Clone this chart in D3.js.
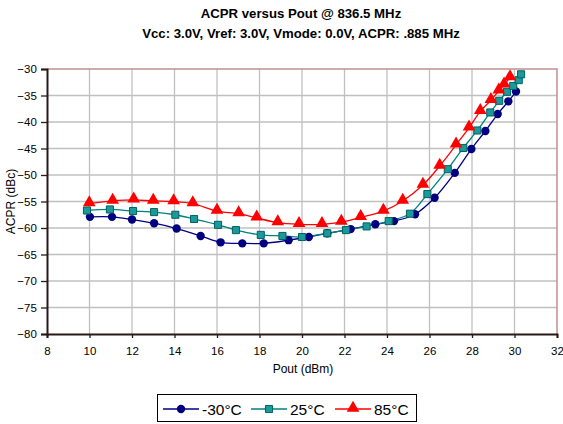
<!DOCTYPE html>
<html><head><meta charset="utf-8">
<script src="https://cdn.jsdelivr.net/npm/d3@7"></script>
<style>body{margin:0;background:#fff;} svg{display:block;font-family:"Liberation Sans",Arial,sans-serif;}</style>
</head><body>
<svg id="chart" width="563" height="424"></svg>
<script>
const titleLines = ["ACPR versus Pout @ 836.5 MHz", "Vcc: 3.0V, Vref: 3.0V, Vmode: 0.0V, ACPR: .885 MHz"];
const xTicks = [8,10,12,14,16,18,20,22,24,26,28,30,32];
const yTicks = [-30,-35,-40,-45,-50,-55,-60,-65,-70,-75,-80];
const seriesNames = ["-30°C", "25°C", "85°C"];

const m30x = [10.02,11.06,12.0,13.04,14.1,15.23,16.17,17.19,18.2,19.37,20.32,21.19,22.29,23.45,24.33,25.32,26.24,27.19,27.97,28.63,29.21,29.71,30.07];
const m30y = [-57.9,-57.9,-58.4,-59.1,-60.1,-61.5,-62.7,-62.9,-62.9,-62.3,-61.7,-61.0,-60.2,-59.3,-58.7,-57.4,-54.3,-49.6,-45.1,-41.7,-38.5,-36.1,-34.25];

const p25x = [9.88,10.96,12.05,13.04,14.04,14.92,16.05,16.89,18.06,19.08,20.0,21.19,22.07,23.04,24.08,25.08,25.9,26.86,27.59,28.25,28.86,29.28,29.65,29.94,30.2,30.31];
const p25y = [-56.7,-56.5,-56.8,-57.0,-57.5,-58.3,-59.4,-60.4,-61.3,-61.5,-61.7,-61.0,-60.4,-59.7,-58.7,-57.3,-53.6,-48.9,-44.9,-41.6,-38.2,-36.0,-34.3,-33.2,-32.1,-31.0];

const p85x = [9.99,11.09,12.08,13.0,13.96,14.86,16.0,17.02,17.87,18.86,19.86,20.94,21.85,22.76,23.83,24.74,25.69,26.48,27.25,27.86,28.39,28.89,29.26,29.51,29.79];
const p85y = [-55.4,-54.9,-54.7,-54.9,-55.0,-55.4,-56.8,-57.3,-58.1,-59.0,-59.3,-59.3,-58.9,-58.0,-56.8,-54.9,-51.9,-48.3,-44.3,-41.1,-38.0,-35.9,-34.1,-33.0,-31.6];

const colors = ["#000080", "#008080", "#ff0000"];
const symbols = [d3.symbolCircle, d3.symbolSquare, d3.symbolTriangle];
const symSizes = [55, 50, 70];

const series = [
  {name: seriesNames[0], pts: m30x.map((x,i)=>({x, y:m30y[i]}))},
  {name: seriesNames[1], pts: p25x.map((x,i)=>({x, y:p25y[i]}))},
  {name: seriesNames[2], pts: p85x.map((x,i)=>({x, y:p85y[i]}))}
];

const svg = d3.select("#chart");
const L = 47, R = 557, T = 69, B = 334;
const x = d3.scaleLinear().domain([8,32]).range([L,R]);
const y = d3.scaleLinear().domain([-80,-30]).range([B,T]);

// titles
svg.selectAll("text.title").data(titleLines).join("text")
  .attr("class","title")
  .attr("x", 301).attr("y",(d,i)=>18+i*19.5)
  .attr("text-anchor","middle").attr("font-weight","bold").attr("font-size",13.2)
  .text(d=>d);

// grid
const g = svg.append("g");
g.selectAll("line.vg").data(xTicks.slice(1,-1)).join("line")
  .attr("x1",d=>x(d)).attr("x2",d=>x(d)).attr("y1",T).attr("y2",B)
  .attr("stroke","#c0c0c0").attr("stroke-width",1.3);
g.selectAll("line.hg").data(yTicks.slice(1,-1)).join("line")
  .attr("x1",L).attr("x2",R).attr("y1",d=>y(d)).attr("y2",d=>y(d))
  .attr("stroke","#c0c0c0").attr("stroke-width",1.3);

// top/right border
svg.append("path").attr("d",`M${L},${T}H${R}V${B}`).attr("fill","none").attr("stroke","#c09090").attr("stroke-width",1.5);

// axes
const xAxis = d3.axisBottom(x).tickValues(xTicks).tickSize(4).tickFormat(d3.format("d"));
const yAxis = d3.axisLeft(y).tickValues(yTicks).tickSize(6).tickFormat(d3.format("d"));
const xg = svg.append("g").attr("transform",`translate(0,${B})`).call(xAxis);
const yg = svg.append("g").attr("transform",`translate(${L},0)`).call(yAxis);
[xg,yg].forEach(a=>{
  a.select(".domain").attr("stroke","#2a1818").attr("stroke-width",2);
  a.selectAll(".tick line").attr("stroke","#2a1818").attr("stroke-width",1.3);
  a.selectAll(".tick text").attr("font-size",11.5).attr("fill","#000").attr("font-family","Liberation Sans, Arial, sans-serif");
});
xg.selectAll(".tick text").attr("dy","1.2em");
yg.selectAll(".tick text").attr("dx","-0.1em");

// axis titles
svg.append("text").attr("x",(L+R)/2+1).attr("y",373).attr("text-anchor","middle").attr("font-size",12).text("Pout (dBm)");
svg.append("text").attr("transform",`translate(15,${(T+B)/2}) rotate(-90)`).attr("text-anchor","middle").attr("font-size",12).text("ACPR (dBc)");

// lines
const line = d3.line().x(d=>x(d.x)).y(d=>y(d.y)).curve(d3.curveCatmullRom.alpha(0.5));
series.forEach((s,i)=>{
  svg.append("path").datum(s.pts).attr("d",line).attr("fill","none").attr("stroke",colors[i]).attr("stroke-width",1.3);
});
series.forEach((s,i)=>{
  svg.append("g").selectAll("path").data(s.pts).join("path")
    .attr("transform",d=>`translate(${x(d.x)},${y(d.y)+(i==2?-1:0)})`)
    .attr("d",d3.symbol().type(symbols[i]).size(symSizes[i]))
    .attr("fill", i==1 ? "#1a9a9a" : colors[i])
    .attr("stroke", i==1 ? "#006060" : "none").attr("stroke-width",1);
});

// legend
const lg = svg.append("g");
lg.append("rect").attr("x",157.5).attr("y",394.5).attr("width",259).attr("height",27).attr("fill","#fff").attr("stroke","#000").attr("stroke-width",1);
const legX = [163, 251, 335];
seriesNames.forEach((n,i)=>{
  const lx = legX[i], ly = 409;
  lg.append("line").attr("x1",lx).attr("x2",lx+36).attr("y1",ly).attr("y2",ly).attr("stroke",colors[i]).attr("stroke-width",1.3);
  lg.append("path").attr("transform",`translate(${lx+18},${ly+(i==2?-1:0)})`)
    .attr("d",d3.symbol().type(symbols[i]).size(symSizes[i]))
    .attr("fill", i==1 ? "#1a9a9a" : colors[i]).attr("stroke", i==1 ? "#006060":"none");
  lg.append("text").attr("x",lx+39).attr("y",ly+5.5).attr("font-size",15.5).text(n);
});
</script>
</body></html>
